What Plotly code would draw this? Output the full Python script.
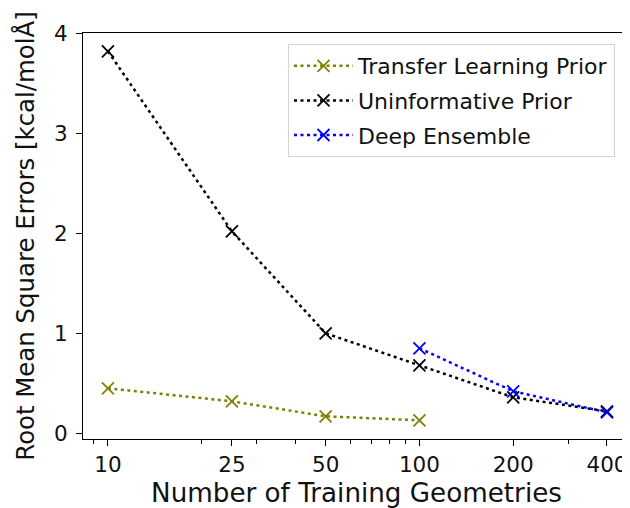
import plotly.graph_objects as go

# Data
transfer_x = [10, 25, 50, 100]
transfer_y = [0.45, 0.32, 0.17, 0.13]
uninf_x = [10, 25, 50, 100, 200, 400]
uninf_y = [3.82, 2.02, 1.00, 0.68, 0.36, 0.22]
ens_x = [100, 200, 400]
ens_y = [0.85, 0.42, 0.21]
x_ticks = [10, 25, 50, 100, 200, 400]
x_minor = [9, 20, 30, 40, 60, 70, 80, 90, 300]
y_ticks = [0, 1, 2, 3, 4]

FONT = "DejaVu Sans"
DASH = "3px,3.5px"
TXT = "#111111"

# page body has an 8px margin, so the figure is shrunk by 8px
W, H = 622, 500
ML, MT, MB, MR = 75, 25, 69, 0
PW, PH = W - ML - MR, H - MT - MB

fig = go.Figure()

def add(x, y, name, color):
    fig.add_trace(go.Scatter(
        x=x, y=y, name=name, mode="lines+markers", legendgroup=name,
        line=dict(color=color, width=2.5, dash=DASH),
        marker=dict(symbol="x-thin", size=12, line=dict(color=color, width=1.8), color=color),
    ))

add(transfer_x, transfer_y, "Transfer Learning Prior", "#808000")
add(uninf_x, uninf_y, "Uninformative Prior", "#000000")
add(ens_x, ens_y, "Deep Ensemble", "#0000ff")

fig.update_layout(
    width=W, height=H,
    margin=dict(l=ML, r=MR, t=MT, b=MB),
    paper_bgcolor="white", plot_bgcolor="white",
    font=dict(family=FONT, size=21.5, color=TXT),
    showlegend=True,
    legend=dict(
        x=(288 - 83) / PW, y=1 - (44 - 33) / PH, xanchor="left", yanchor="top",
        bgcolor="rgba(255,255,255,0.8)", bordercolor="#d4d4d4", borderwidth=1,
        font=dict(family=FONT, size=22, color=TXT),
        tracegroupgap=3, itemwidth=59,
    ),
    xaxis=dict(
        type="log", range=[0.92, 2.676], automargin=False,
        tickmode="array", tickvals=x_ticks, ticktext=[str(v) for v in x_ticks],
        showgrid=False, zeroline=False,
        showline=True, linecolor="black", linewidth=1.2, mirror=True,
        ticks="outside", ticklen=6, tickwidth=1.2, tickcolor="black",
        ticklabelstandoff=0,
        minor=dict(ticks="outside", ticklen=3.5, tickwidth=1, tickcolor="black",
                   tickmode="array", tickvals=x_minor, showgrid=False),
        title=dict(text="Number of Training Geometries", font=dict(size=26.2, family=FONT, color=TXT), standoff=8),
        tickfont=dict(size=21.5, family=FONT, color=TXT),
    ),
    yaxis=dict(
        range=[-0.057, 4.003], automargin=False,
        tickmode="array", tickvals=y_ticks, ticktext=[str(v) for v in y_ticks],
        showgrid=False, zeroline=False,
        showline=True, linecolor="black", linewidth=1.2, mirror=False,
        ticks="outside", ticklen=6, tickwidth=1.2, tickcolor="black",
        ticklabelstandoff=4,
        title=dict(text="Root Mean Square Errors [kcal/molÅ]", font=dict(size=24.4, family=FONT, color=TXT), standoff=12),
        tickfont=dict(size=21.5, family=FONT, color=TXT),
    ),
)

fig.write_html("out.html")
